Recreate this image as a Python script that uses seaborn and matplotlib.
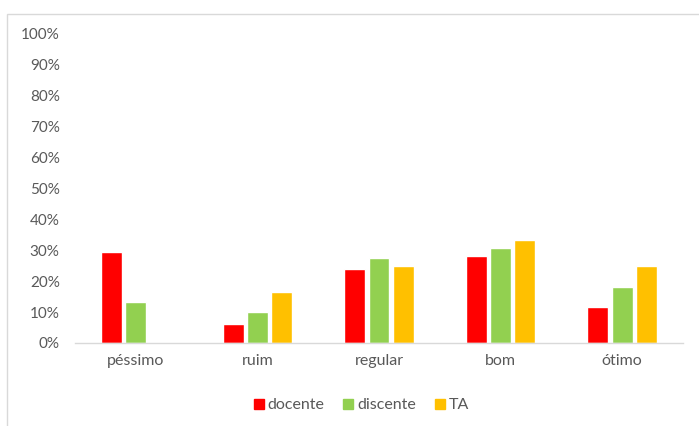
import matplotlib
matplotlib.use("Agg")
import matplotlib.pyplot as plt
from matplotlib.patches import Rectangle
from matplotlib.lines import Line2D
from matplotlib.ticker import PercentFormatter
import seaborn as sns
import pandas as pd

categories = ["péssimo", "ruim", "regular", "bom", "ótimo"]
groups = ["docente", "discente", "TA"]
docente = [29.5, 6.2, 24.0, 28.1, 11.7]
discente = [13.3, 10.1, 27.4, 30.6, 18.2]
ta = [0.0, 16.6, 25.0, 33.2, 25.0]
colors = ["#FF0000", "#92D050", "#FFC000"]

df = pd.DataFrame({
    "categoria": categories * 3,
    "grupo": [g for g in groups for _ in categories],
    "valor": docente + discente + ta,
})

sns.set_style("white")
plt.rcParams["font.family"] = ["Lato", "DejaVu Sans"]

fig = plt.figure(figsize=(6.99, 4.26), dpi=100)
ax = fig.add_axes([75 / 699, 1 - 343 / 426, (683 - 75) / 699, (343 - 34) / 426])

sns.barplot(data=df, x="categoria", y="valor", hue="grupo", order=categories,
            hue_order=groups, palette=colors, width=0.6, gap=0.14,
            saturation=1, ax=ax, legend=False)

ax.set_ylim(0, 100)
ax.set_yticks(range(0, 101, 10))
ax.yaxis.set_major_formatter(PercentFormatter(decimals=0))
ax.set_xlabel("")
ax.set_ylabel("")
for s in ["top", "right", "left"]:
    ax.spines[s].set_visible(False)
ax.spines["bottom"].set_color("#D9D9D9")
ax.spines["bottom"].set_linewidth(1)
ax.tick_params(axis="both", length=0, labelsize=11, colors="#595959")
ax.tick_params(axis="x", labelsize=11.5, pad=8)
ax.tick_params(axis="y", pad=11)

handles = [Line2D([], [], marker="s", linestyle="none", markersize=7,
                  markerfacecolor=c, markeredgecolor=c) for c in colors]
fig.legend(handles, groups, loc="center", bbox_to_anchor=(360 / 699, 1 - 405 / 426),
           ncol=3, frameon=False, fontsize=11.5, labelcolor="#595959",
           handletextpad=0.05, columnspacing=1.0, handlelength=1.0)

fig.patches.append(Rectangle((7 / 699, -0.1), 1.2, 1 - 14 / 426 + 0.1,
                             transform=fig.transFigure, fill=False,
                             edgecolor="#D9D9D9", linewidth=1))

fig.savefig("out.png", dpi=100)
